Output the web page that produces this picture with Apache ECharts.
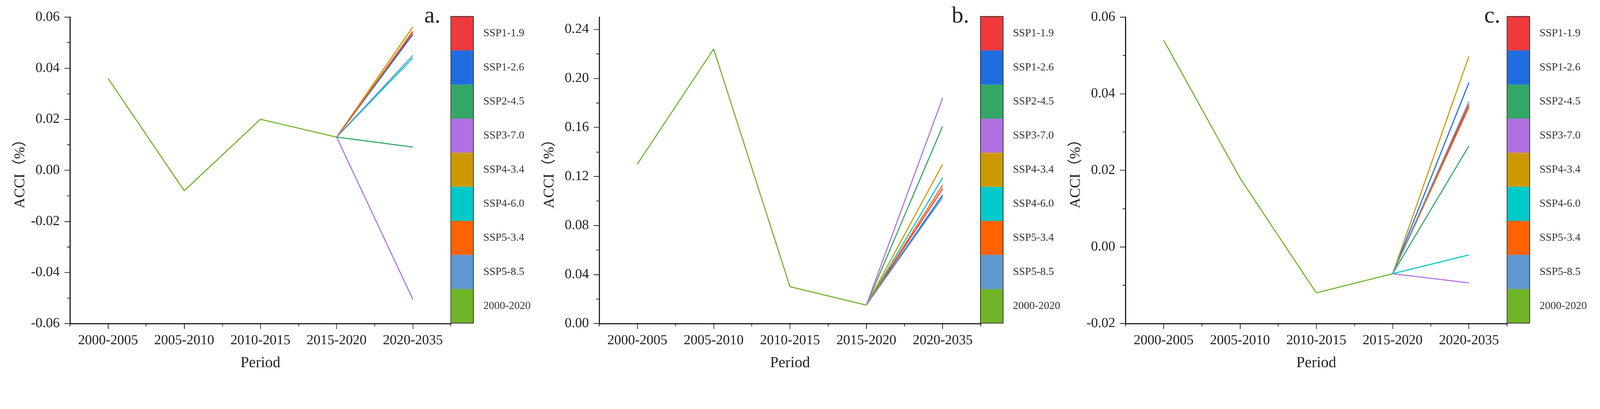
<!DOCTYPE html>
<html>
<head>
<meta charset="utf-8">
<script src="https://cdn.jsdelivr.net/npm/echarts@6/dist/echarts.min.js"></script>
<style>
html,body{margin:0;padding:0;background:#fff;overflow:hidden;}
#chart{width:4393px;height:1048px;transform-origin:0 0;}
</style>
</head>
<body>
<div id="chart"></div>
<script>
// ---------- data ----------
const periods = ['2000-2005', '2005-2010', '2010-2015', '2015-2020', '2020-2035'];
const scenarios = ['SSP1-1.9', 'SSP1-2.6', 'SSP2-4.5', 'SSP3-7.0', 'SSP4-3.4', 'SSP4-6.0', 'SSP5-3.4', 'SSP5-8.5'];
const historyName = '2000-2020';
const panelTags = ['a.', 'b.', 'c.'];

// historical values (2000-2005 .. 2015-2020)
const aHistory = [0.036, -0.008, 0.020, 0.013];
const bHistory = [0.130, 0.224, 0.030, 0.015];
const cHistory = [0.054, 0.018, -0.012, -0.007];

// projected 2020-2035 value per scenario (same order as scenarios)
const aProjection = [0.0540, 0.0532, 0.0091, -0.0505, 0.0562, 0.0440, 0.0545, 0.0450];
const bProjection = [0.110, 0.105, 0.161, 0.184, 0.130, 0.119, 0.113, 0.103];
const cProjection = [0.0372, 0.0429, 0.0264, -0.0094, 0.0498, -0.0021, 0.0365, 0.0380];

// axis ranges and tick labels
const aYRange = [-0.06, 0.06];
const bYRange = [0, 0.25];
const cYRange = [-0.02, 0.06];
const aYTicks = [-0.06, -0.04, -0.02, 0.00, 0.02, 0.04, 0.06];
const aYMinorTicks = [-0.05, -0.03, -0.01, 0.01, 0.03, 0.05];
const bYTicks = [0.00, 0.04, 0.08, 0.12, 0.16, 0.20, 0.24];
const bYMinorTicks = [0.02, 0.06, 0.10, 0.14, 0.18, 0.22];
const cYTicks = [-0.02, 0.00, 0.02, 0.04, 0.06];
const cYMinorTicks = [-0.01, 0.01, 0.03, 0.05];

// ---------- styles / layout ----------
const scenarioColors = ['#f0393d', '#1f6de0', '#33a866', '#b070e2', '#cc9a00', '#00c9c9', '#ff6200', '#5f97d1'];
const historyColor = '#6fb426';
const FONT = '"Liberation Serif", "Times New Roman", "Noto Sans CJK SC", serif';
const TEXT = '#222';

const layout = [
  { plotLeft: 192,  plotWidth: 1046, barLeft: 1238, tagLeft: 1160 },
  { plotLeft: 1645, plotWidth: 1048, barLeft: 2692, tagLeft: 2608 },
  { plotLeft: 3090, plotWidth: 1048, barLeft: 4138, tagLeft: 4070 }
];
const plotTop = 47, plotHeight = 842;
const barTop = 45, barHeight = 843, barWidth = 62;

const panelData = [
  { hist: aHistory, proj: aProjection, range: aYRange, ticks: aYTicks, minor: aYMinorTicks },
  { hist: bHistory, proj: bProjection, range: bYRange, ticks: bYTicks, minor: bYMinorTicks },
  { hist: cHistory, proj: cProjection, range: cYRange, ticks: cYTicks, minor: cYMinorTicks }
];

const legendNames = scenarios.concat([historyName]);
const legendColors = scenarioColors.concat([historyColor]);

const grid = [], xAxis = [], yAxis = [], series = [], title = [];

panelData.forEach((p, i) => {
  const L = layout[i];
  const gPlot = grid.length;
  grid.push({ left: L.plotLeft, top: plotTop, width: L.plotWidth, height: plotHeight, containLabel: false });
  const gBar = grid.length;
  grid.push({ left: L.barLeft, top: barTop, width: barWidth, height: barHeight, show: true,
              borderColor: '#3a3a3a', borderWidth: 2, backgroundColor: 'transparent', z: 10 });

  const xMain = xAxis.length;
  xAxis.push({
    type: 'category', gridIndex: gPlot, data: periods, boundaryGap: true, position: 'bottom',
    axisLine: { show: true, onZero: false, lineStyle: { color: TEXT, width: 3 } },
    axisTick: { show: true, alignWithLabel: true, interval: 0, length: 15, lineStyle: { color: TEXT, width: 2 } },
    axisLabel: { interval: 0, fontFamily: FONT, fontSize: 38, color: TEXT, margin: 28 },
    splitLine: { show: false },
    name: 'Period', nameLocation: 'middle', nameGap: 88,
    nameTextStyle: { fontFamily: FONT, fontSize: 42, color: TEXT }
  });
  xAxis.push({
    type: 'category', gridIndex: gPlot, data: periods, boundaryGap: true, position: 'bottom',
    axisLine: { show: false, onZero: false },
    axisTick: { show: true, alignWithLabel: false, interval: 0, length: 8, lineStyle: { color: TEXT, width: 2 } },
    axisLabel: { show: false }, splitLine: { show: false }
  });
  const yMain = yAxis.length;
  yAxis.push({
    type: 'value', gridIndex: gPlot, min: p.range[0], max: p.range[1], position: 'left',
    axisLine: { show: true, lineStyle: { color: TEXT, width: 3 } },
    axisTick: { show: true, customValues: p.ticks, length: 15, lineStyle: { color: TEXT, width: 2 } },
    axisLabel: { customValues: p.ticks, formatter: v => v.toFixed(2), fontFamily: FONT, fontSize: 38, color: TEXT, margin: 28 },
    splitLine: { show: false },
    name: 'ACCI（%）', nameLocation: 'middle', nameGap: 116,
    nameTextStyle: { fontFamily: FONT, fontSize: 40, color: TEXT }
  });
  yAxis.push({
    type: 'value', gridIndex: gPlot, min: p.range[0], max: p.range[1], position: 'left',
    axisLine: { show: false },
    axisTick: { show: true, customValues: p.minor, length: 8, lineStyle: { color: TEXT, width: 2 } },
    axisLabel: { show: false }, splitLine: { show: false }
  });

  const xBar = xAxis.length;
  xAxis.push({ type: 'value', gridIndex: gBar, min: 0, max: 1, show: false });
  const yBar = yAxis.length;
  yAxis.push({
    type: 'category', gridIndex: gBar, data: legendNames, inverse: true, position: 'right',
    axisLine: { show: false },
    axisTick: { show: true, alignWithLabel: true, length: 15, lineStyle: { color: '#333', width: 2 } },
    axisLabel: { fontFamily: FONT, fontSize: 30, color: '#333', margin: 27 },
    splitLine: { show: false }
  });

  scenarios.forEach((s, j) => {
    series.push({
      type: 'line', name: s, xAxisIndex: xMain, yAxisIndex: yMain,
      data: periods.map((_, k) => k === 3 ? p.hist[3] : (k === 4 ? p.proj[j] : null)),
      symbol: 'none', lineStyle: { color: scenarioColors[j], width: 3 }, itemStyle: { color: scenarioColors[j] },
      silent: true, z: 2
    });
  });
  series.push({
    type: 'line', name: historyName, xAxisIndex: xMain, yAxisIndex: yMain,
    data: periods.map((_, k) => k < p.hist.length ? p.hist[k] : null),
    symbol: 'none', lineStyle: { color: historyColor, width: 3 }, itemStyle: { color: historyColor },
    silent: true, z: 3
  });
  series.push({
    type: 'bar', xAxisIndex: xBar, yAxisIndex: yBar, barCategoryGap: '0%', barWidth: '100%',
    data: legendNames.map((n, k) => ({ value: 1, itemStyle: { color: legendColors[k] } })),
    silent: true, z: 2
  });

  title.push({
    text: panelTags[i], left: L.tagLeft, top: 8,
    textStyle: { fontFamily: FONT, fontSize: 64, fontWeight: 'normal', color: TEXT }
  });
});

// fit the 4393x1048 design into whatever viewport the page actually gets
const el = document.getElementById('chart');
const k = Math.min(window.innerWidth / 4393, window.innerHeight / 1048);
if (k > 0 && Math.abs(k - 1) > 0.001) {
  el.style.transform = 'scale(' + k + ')';
}
const chart = echarts.init(el, null, { renderer: 'canvas', width: 4393, height: 1048, devicePixelRatio: 2 });
chart.setOption({
  backgroundColor: '#ffffff',
  animation: false,
  title: title,
  grid: grid,
  xAxis: xAxis,
  yAxis: yAxis,
  series: series
});
</script>
</body>
</html>
